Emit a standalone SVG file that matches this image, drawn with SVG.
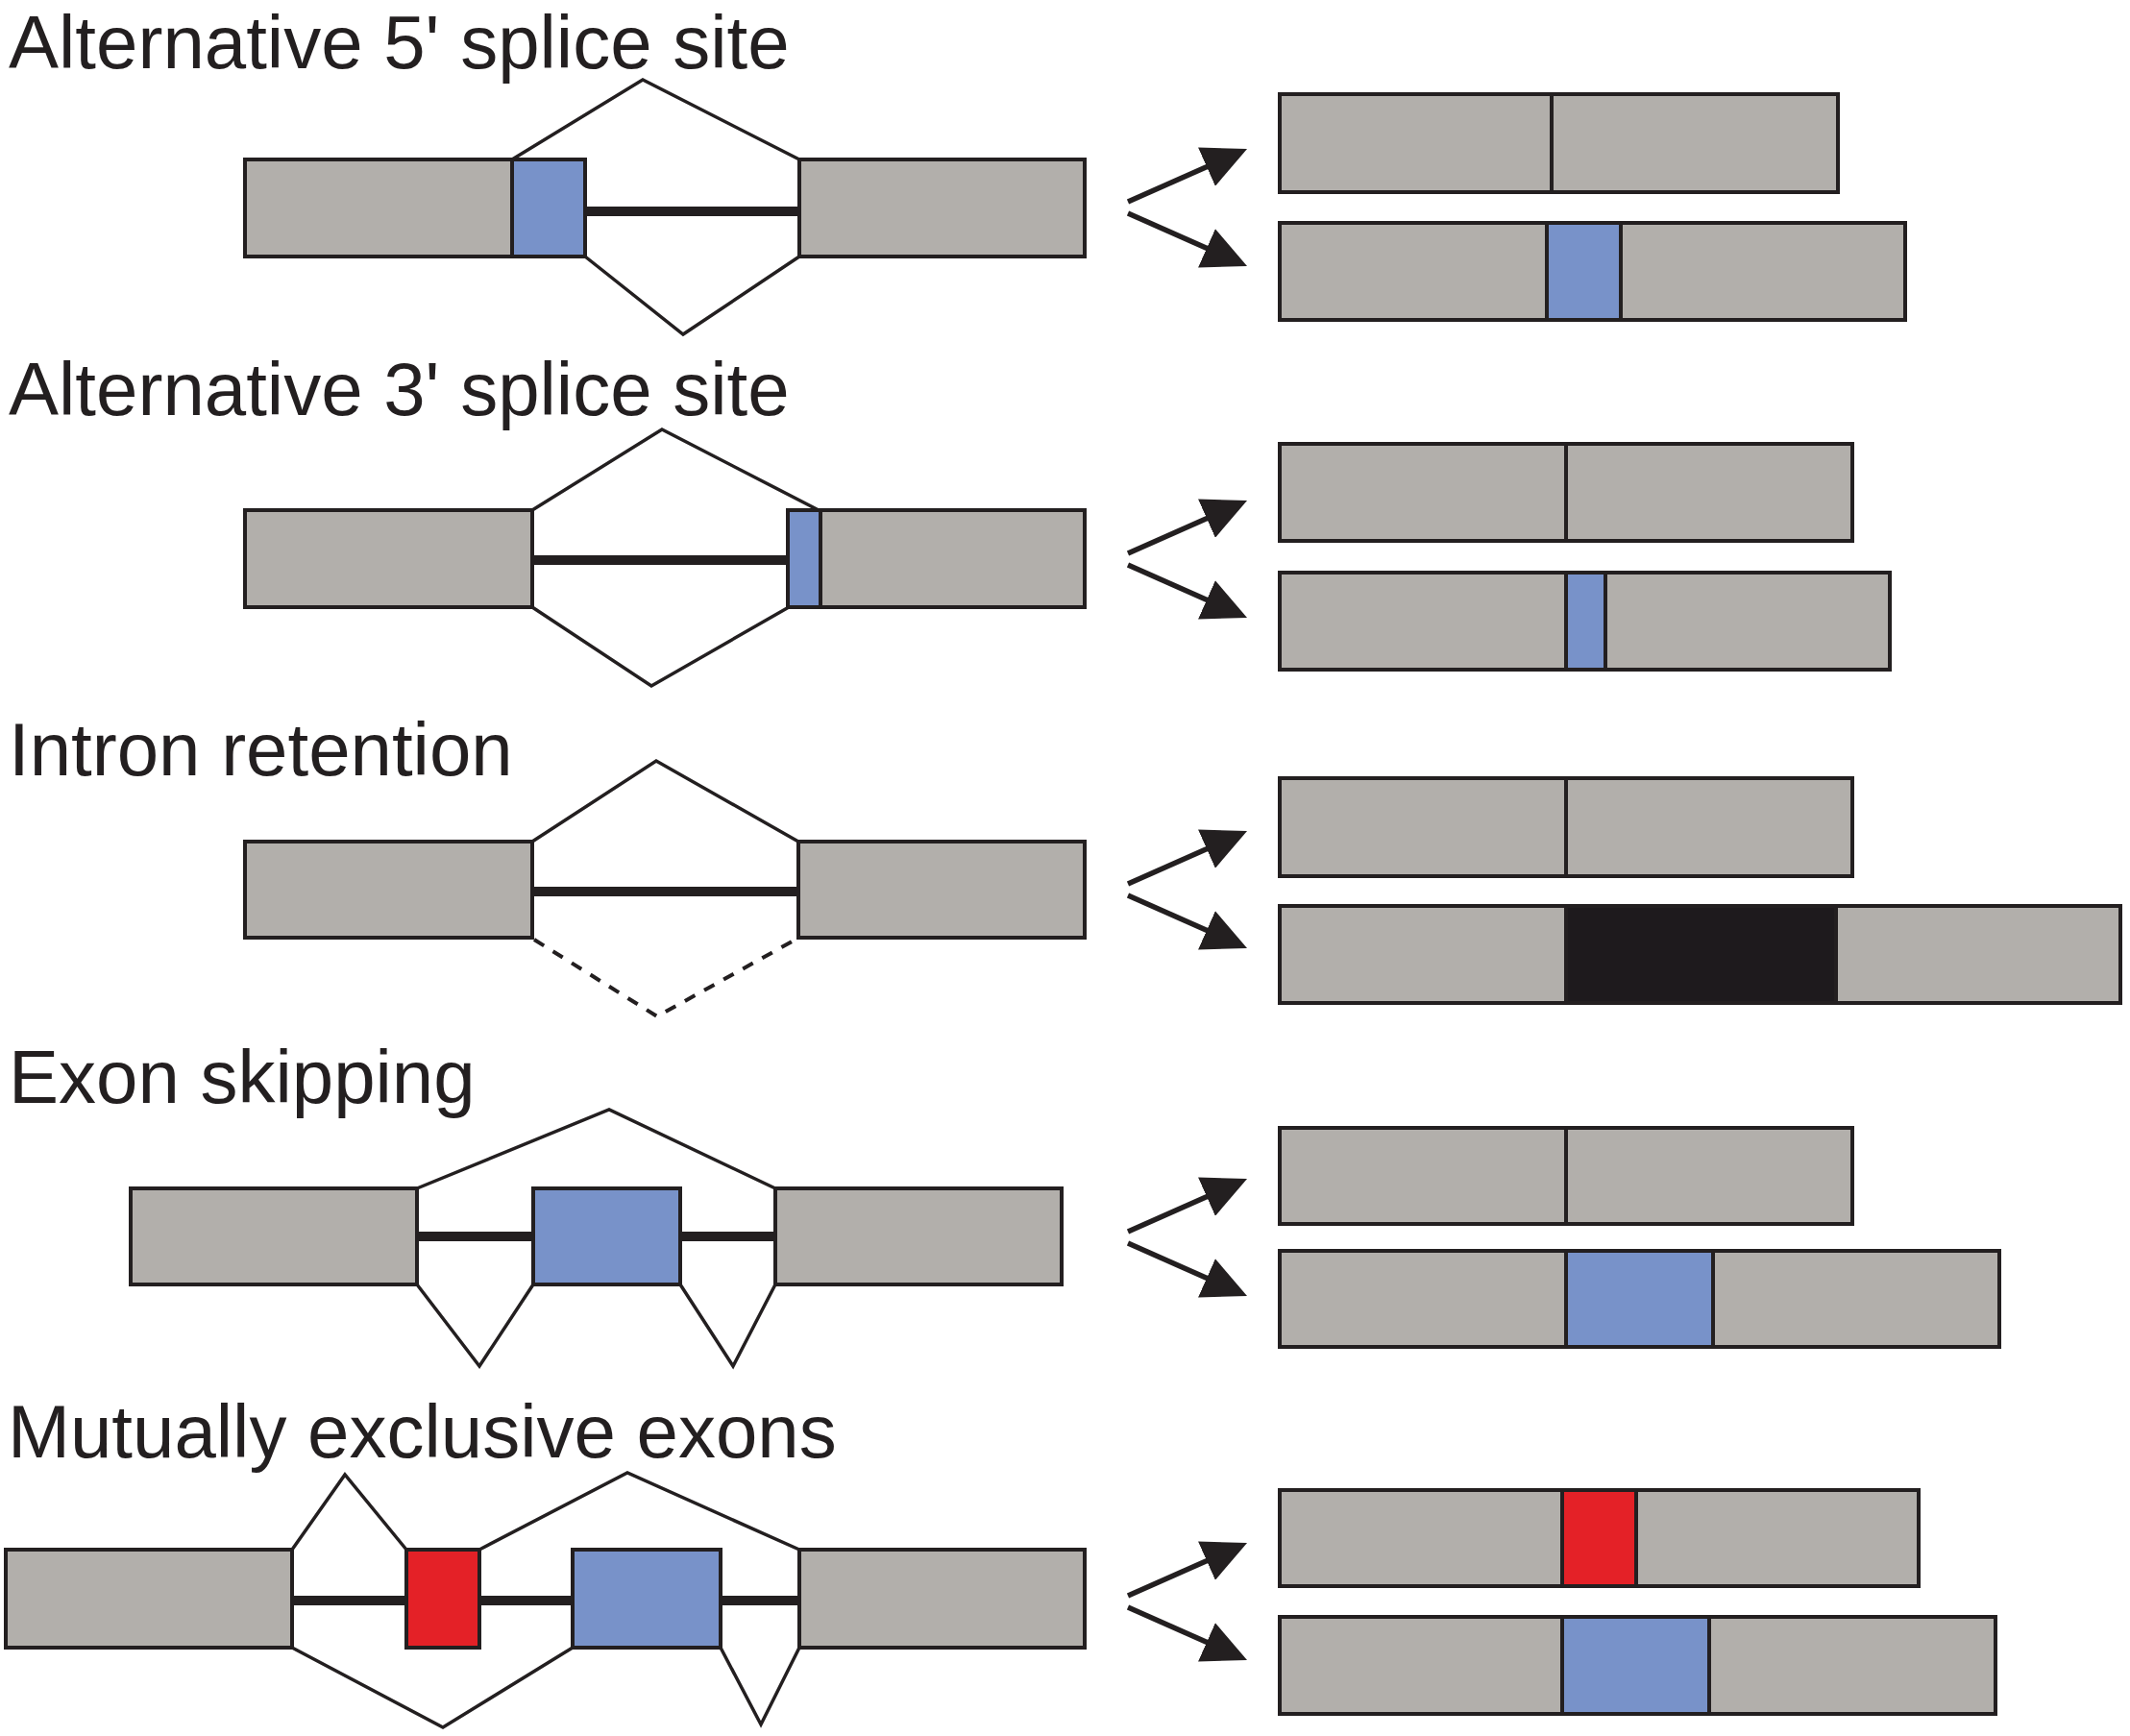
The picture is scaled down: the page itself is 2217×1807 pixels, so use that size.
<svg xmlns="http://www.w3.org/2000/svg" width="2217" height="1807" viewBox="0 0 2217 1807">
<defs>
<style>
.t{font-family:"Liberation Sans",Arial,sans-serif;font-size:78px;fill:#231f20}
.g{fill:#b2afab;stroke:#231f20;stroke-width:4}
.b{fill:#7892c9;stroke:#231f20;stroke-width:4}
.r{fill:#e42127;stroke:#231f20;stroke-width:4}
.k{fill:#1e1a1d;stroke:#231f20;stroke-width:4}
.d{stroke:#231f20;stroke-width:4;fill:none}
.i{stroke:#231f20;stroke-width:10;fill:none}
.s{stroke:#231f20;stroke-width:3.5;fill:none;stroke-linejoin:miter}
.sd{stroke:#231f20;stroke-width:4;fill:none;stroke-dasharray:12 11}
.a{stroke:#231f20;stroke-width:5.5;fill:none;marker-end:url(#ah)}
</style>
<marker id="ah" viewBox="0 0 46 44" refX="1" refY="22" markerWidth="46" markerHeight="44" markerUnits="userSpaceOnUse" orient="auto">
<path d="M0,0 L46,22 L0,44 Z" fill="#231f20"/>
</marker>
</defs>
<rect width="2217" height="1807" fill="#ffffff"/>

<g id="title-alt5"><text class="t" x="9" y="71">Alternative 5' splice site</text></g>
<g id="title-alt3"><text class="t" x="9" y="432">Alternative 3' splice site</text></g>
<g id="title-intron"><text class="t" x="9" y="807">Intron retention</text></g>
<g id="title-skip"><text class="t" x="9" y="1148">Exon skipping</text></g>
<g id="title-mutex"><text class="t" x="8" y="1517">Mutually exclusive exons</text></g>

<!-- Panel 1 -->
<g id="pre-alt5">
<line class="i" x1="609" y1="220" x2="832" y2="220"/>
<rect class="g" x="255" y="166" width="278" height="101"/>
<rect class="b" x="533" y="166" width="76" height="101"/>
<rect class="g" x="832" y="166" width="297" height="101"/>
</g>
<g id="mrna-alt5-a">
<rect class="g" x="1332" y="98" width="581" height="102"/>
<line class="d" x1="1615" y1="98" x2="1615" y2="200"/>
</g>
<g id="mrna-alt5-b">
<rect class="g" x="1332" y="232" width="651" height="101"/>
<rect class="b" x="1610" y="232" width="77" height="101"/>
</g>

<!-- Panel 2 -->
<g id="pre-alt3">
<line class="i" x1="554" y1="583" x2="820" y2="583"/>
<rect class="g" x="255" y="531" width="299" height="101"/>
<rect class="b" x="820" y="531" width="34" height="101"/>
<rect class="g" x="854" y="531" width="275" height="101"/>
</g>
<g id="mrna-alt3-a">
<rect class="g" x="1332" y="462" width="596" height="101"/>
<line class="d" x1="1630" y1="462" x2="1630" y2="563"/>
</g>
<g id="mrna-alt3-b">
<rect class="g" x="1332" y="596" width="635" height="101"/>
<rect class="b" x="1630" y="596" width="41" height="101"/>
</g>

<!-- Panel 3 -->
<g id="pre-intron">
<line class="i" x1="554" y1="928" x2="831" y2="928"/>
<rect class="g" x="255" y="876" width="299" height="100"/>
<rect class="g" x="831" y="876" width="298" height="100"/>
</g>
<g id="mrna-intron-a">
<rect class="g" x="1332" y="810" width="596" height="102"/>
<line class="d" x1="1630" y1="810" x2="1630" y2="912"/>
</g>
<g id="mrna-intron-b">
<rect class="g" x="1332" y="943" width="875" height="101"/>
<rect class="k" x="1630" y="943" width="281" height="101"/>
</g>

<!-- Panel 4 -->
<g id="pre-skip">
<line class="i" x1="434" y1="1287" x2="555" y2="1287"/>
<line class="i" x1="708" y1="1287" x2="807" y2="1287"/>
<rect class="g" x="136" y="1237" width="298" height="100"/>
<rect class="b" x="555" y="1237" width="153" height="100"/>
<rect class="g" x="807" y="1237" width="298" height="100"/>
</g>
<g id="mrna-skip-a">
<rect class="g" x="1332" y="1174" width="596" height="100"/>
<line class="d" x1="1630" y1="1174" x2="1630" y2="1274"/>
</g>
<g id="mrna-skip-b">
<rect class="g" x="1332" y="1302" width="749" height="100"/>
<rect class="b" x="1630" y="1302" width="153" height="100"/>
</g>

<!-- Panel 5 -->
<g id="pre-mutex">
<line class="i" x1="304" y1="1666" x2="832" y2="1666"/>
<rect class="g" x="6" y="1613" width="298" height="102"/>
<rect class="r" x="423" y="1613" width="76" height="102"/>
<rect class="b" x="596" y="1613" width="154" height="102"/>
<rect class="g" x="832" y="1613" width="297" height="102"/>
</g>
<g id="mrna-mutex-a">
<rect class="g" x="1332" y="1551" width="665" height="100"/>
<rect class="r" x="1626" y="1551" width="77" height="100"/>
</g>
<g id="mrna-mutex-b">
<rect class="g" x="1332" y="1683" width="745" height="101"/>
<rect class="b" x="1626" y="1683" width="153" height="101"/>
</g>

<g id="connectors">
<!-- splice junctions -->
<polyline class="s" points="533,166 669,83 832,166"/>
<polyline class="s" points="609,267 711,348 832,267"/>
<polyline class="s" points="554,531 689,447 852,531"/>
<polyline class="s" points="554,632 678,714 821,632"/>
<polyline class="s" points="554,876 683,792 831,876"/>
<polyline class="sd" points="556,978 684,1058 828,978"/>
<polyline class="s" points="434,1237 634,1155 807,1237"/>
<polyline class="s" points="434,1337 499,1422 555,1337"/>
<polyline class="s" points="708,1337 763,1422 807,1337"/>
<polyline class="s" points="304,1613 359,1535 423,1613"/>
<polyline class="s" points="499,1613 653,1533 832,1613"/>
<polyline class="s" points="304,1715 461,1798 596,1715"/>
<polyline class="s" points="750,1715 792,1795 832,1715"/>
<!-- arrows -->
<line class="a" x1="1174" y1="210" x2="1256.9" y2="173.25"/>
<line class="a" x1="1174" y1="222" x2="1256.9" y2="258.75"/>
<line class="a" x1="1174" y1="576" x2="1256.9" y2="539.25"/>
<line class="a" x1="1174" y1="588" x2="1256.9" y2="624.75"/>
<line class="a" x1="1174" y1="920" x2="1256.9" y2="883.25"/>
<line class="a" x1="1174" y1="932" x2="1256.9" y2="968.75"/>
<line class="a" x1="1174" y1="1282" x2="1256.9" y2="1245.25"/>
<line class="a" x1="1174" y1="1294" x2="1256.9" y2="1330.75"/>
<line class="a" x1="1174" y1="1661" x2="1256.9" y2="1624.25"/>
<line class="a" x1="1174" y1="1673" x2="1256.9" y2="1709.75"/>
</g>
</svg>
